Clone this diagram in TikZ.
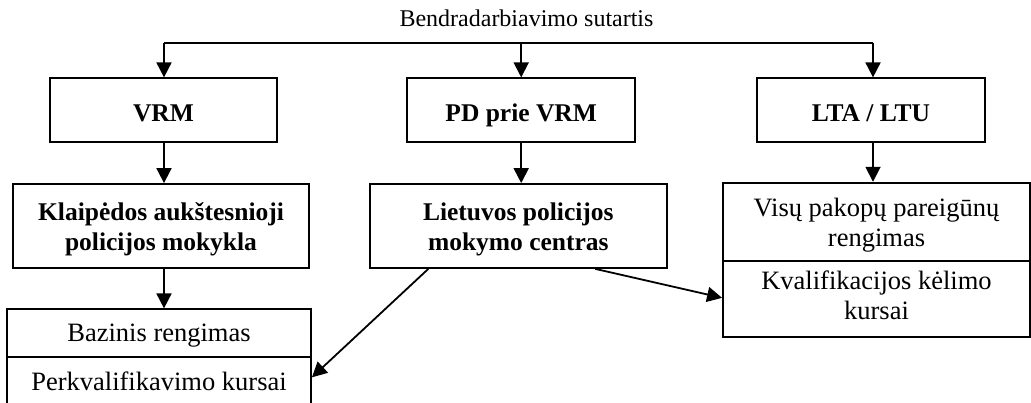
\documentclass[tikz,border=0pt]{standalone}
\usepackage{fontspec}
\setmainfont{Liberation Serif}
\usetikzlibrary{arrows.meta,calc}
\begin{document}
\begin{tikzpicture}[x=1pt,y=-1pt,
  box/.style={draw,line width=1.8pt,inner sep=0pt,align=center,font=\fontsize{25.5}{30}\selectfont\bfseries},
  pbox/.style={draw,line width=1.8pt,inner sep=0pt,align=center,font=\fontsize{26.5}{30}\selectfont},
  arr/.style={line width=1.8pt,-{Triangle[length=15pt,width=15pt]}},
  ln/.style={line width=1.8pt}]
\useasboundingbox (0,0) rectangle (1031,403);
\clip (0,0) rectangle (1031,403);
\node[anchor=base,font=\fontsize{24}{28}\selectfont] (title) at (526.5,27) {Bendradarbiavimo sutartis};
\node[box,minimum width=227pt,minimum height=63.4pt,text height=23.4pt,text depth=0pt] (vrm) at (163.5,110) {VRM};
\node[box,minimum width=227.7pt,minimum height=63.4pt,text height=23.4pt,text depth=0pt] (pd) at (521.2,110) {PD prie VRM};
\node[box,minimum width=228pt,minimum height=63.4pt,text height=23.4pt,text depth=0pt] (lta) at (871,110) {LTA / LTU};
\node[box,minimum width=296.6pt,minimum height=84pt] (kap) at (161,226) {\rule{0pt}{27.4pt}Klaipėdos aukštesnioji\\policijos mokykla\rule[-8pt]{0pt}{0pt}};
\node[box,minimum width=296.7pt,minimum height=84pt] (lpc) at (518.3,226) {\rule{0pt}{28pt}Lietuvos policijos\\mokymo centras\rule[-8pt]{0pt}{0pt}};
\node[pbox,minimum width=307pt,minimum height=78.3pt] (vis) at (876.5,221.85) {\rule{0pt}{27.7pt}Visų pakopų pareigūnų\\rengimas\rule[-8pt]{0pt}{0pt}};
\node[pbox,minimum width=307pt,minimum height=75.7pt] (kva) at (876.5,298.85) {\rule{0pt}{20.3pt}Kvalifikacijos kėlimo\\kursai\rule[-8pt]{0pt}{0pt}};
\node[pbox,minimum width=304pt,minimum height=47.4pt,text height=17.4pt,text depth=0pt] (baz) at (159,333) {Bazinis rengimas};
\node[pbox,minimum width=304pt,minimum height=53.3pt,text height=13.3pt,text depth=0pt] (per) at (159,383.35) {Perkvalifikavimo kursai};
\coordinate (tl) at (164,43);
\coordinate (tr) at (873,43);
\draw[ln] (tl) -- (tr);
\draw[arr] (tl) -- (vrm.north -| tl);
\draw[arr] (pd.north |- tl) -- (pd.north);
\draw[arr] (tr) -- (lta.north -| tr);
\draw[arr] (vrm.south -| tl) -- (kap.north -| tl);
\draw[arr] (pd.south) -- (lpc.north -| pd.south);
\draw[arr] (lta.south -| tr) -- (vis.north -| tr);
\draw[arr] (kap.south -| tl) -- (baz.north -| tl);
\draw[arr] ([xshift=-90pt]lpc.south) -- ([yshift=6pt]per.east);
\draw[arr] ([xshift=77pt]lpc.south) -- ([yshift=1pt]kva.west);
\end{tikzpicture}
\end{document}
